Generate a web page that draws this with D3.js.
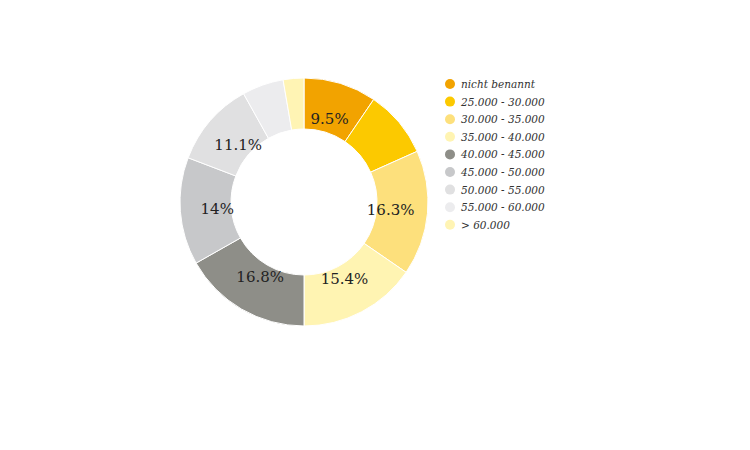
<!DOCTYPE html>
<html>
<head>
<meta charset="utf-8">
<script src="https://cdn.jsdelivr.net/npm/d3@7"></script>
<style>
  html, body { margin: 0; padding: 0; background: #fff; }
  svg { display: block; }
</style>
</head>
<body>
<svg id="chart" width="750" height="450"></svg>
<script>
// Income brackets (share in %), clockwise from 12 o'clock
const categories = ["nicht benannt", "25.000 - 30.000", "30.000 - 35.000", "35.000 - 40.000",
                    "40.000 - 45.000", "45.000 - 50.000", "50.000 - 55.000", "55.000 - 60.000", "> 60.000"];
const shares = [9.5, 8.8, 16.3, 15.4, 16.8, 14, 11.1, 5.4, 2.7];
const labels = ["9.5%", "", "16.3%", "15.4%", "16.8%", "14%", "11.1%", "", ""];
const colors = ["#f2a300", "#fcc900", "#fde07c", "#fff4b2", "#8e8e88", "#c7c8ca", "#e0e0e1", "#ececee", "#fff4b4"];

const svg = d3.select("#chart");
const cx = 304, cy = 202, outerR = 124, innerR = 73, labelR = 87;

const data = categories.map((c, i) => ({ category: c, value: shares[i], label: labels[i] }));

const pie = d3.pie().sort(null).value(d => d.value);
const arc = d3.arc().innerRadius(innerR).outerRadius(outerR);
const labelArc = d3.arc().innerRadius(labelR).outerRadius(labelR);
const color = d3.scaleOrdinal().domain(categories).range(colors);

const g = svg.append("g").attr("transform", `translate(${cx},${cy})`);
const arcs = pie(data);

g.selectAll("path.slice")
  .data(arcs)
  .join("path")
  .attr("class", "slice")
  .attr("d", arc)
  .attr("fill", d => color(d.data.category))
  .attr("stroke", "#ffffff")
  .attr("stroke-width", 1);

g.selectAll("text.value")
  .data(arcs.filter(d => d.data.label))
  .join("text")
  .attr("class", "value")
  .attr("transform", d => `translate(${labelArc.centroid(d)})`)
  .attr("text-anchor", "middle")
  .attr("dominant-baseline", "central")
  .attr("font-family", "'DejaVu Serif', 'Liberation Serif', serif")
  .attr("font-size", 15)
  .attr("fill", "#222")
  .text(d => d.data.label);

// Legend
const legend = svg.append("g").attr("transform", "translate(450,84)");
const rowH = 17.6;
const items = legend.selectAll("g.item")
  .data(categories)
  .join("g")
  .attr("class", "item")
  .attr("transform", (d, i) => `translate(0,${i * rowH})`);

items.append("circle")
  .attr("r", 5)
  .attr("fill", d => color(d));

items.append("text")
  .attr("x", 11)
  .attr("dominant-baseline", "central")
  .attr("font-family", "'DejaVu Serif', 'Liberation Serif', serif")
  .attr("font-style", "italic")
  .attr("font-size", 10.5)
  .attr("fill", "#333")
  .text(d => d);
</script>
</body>
</html>
